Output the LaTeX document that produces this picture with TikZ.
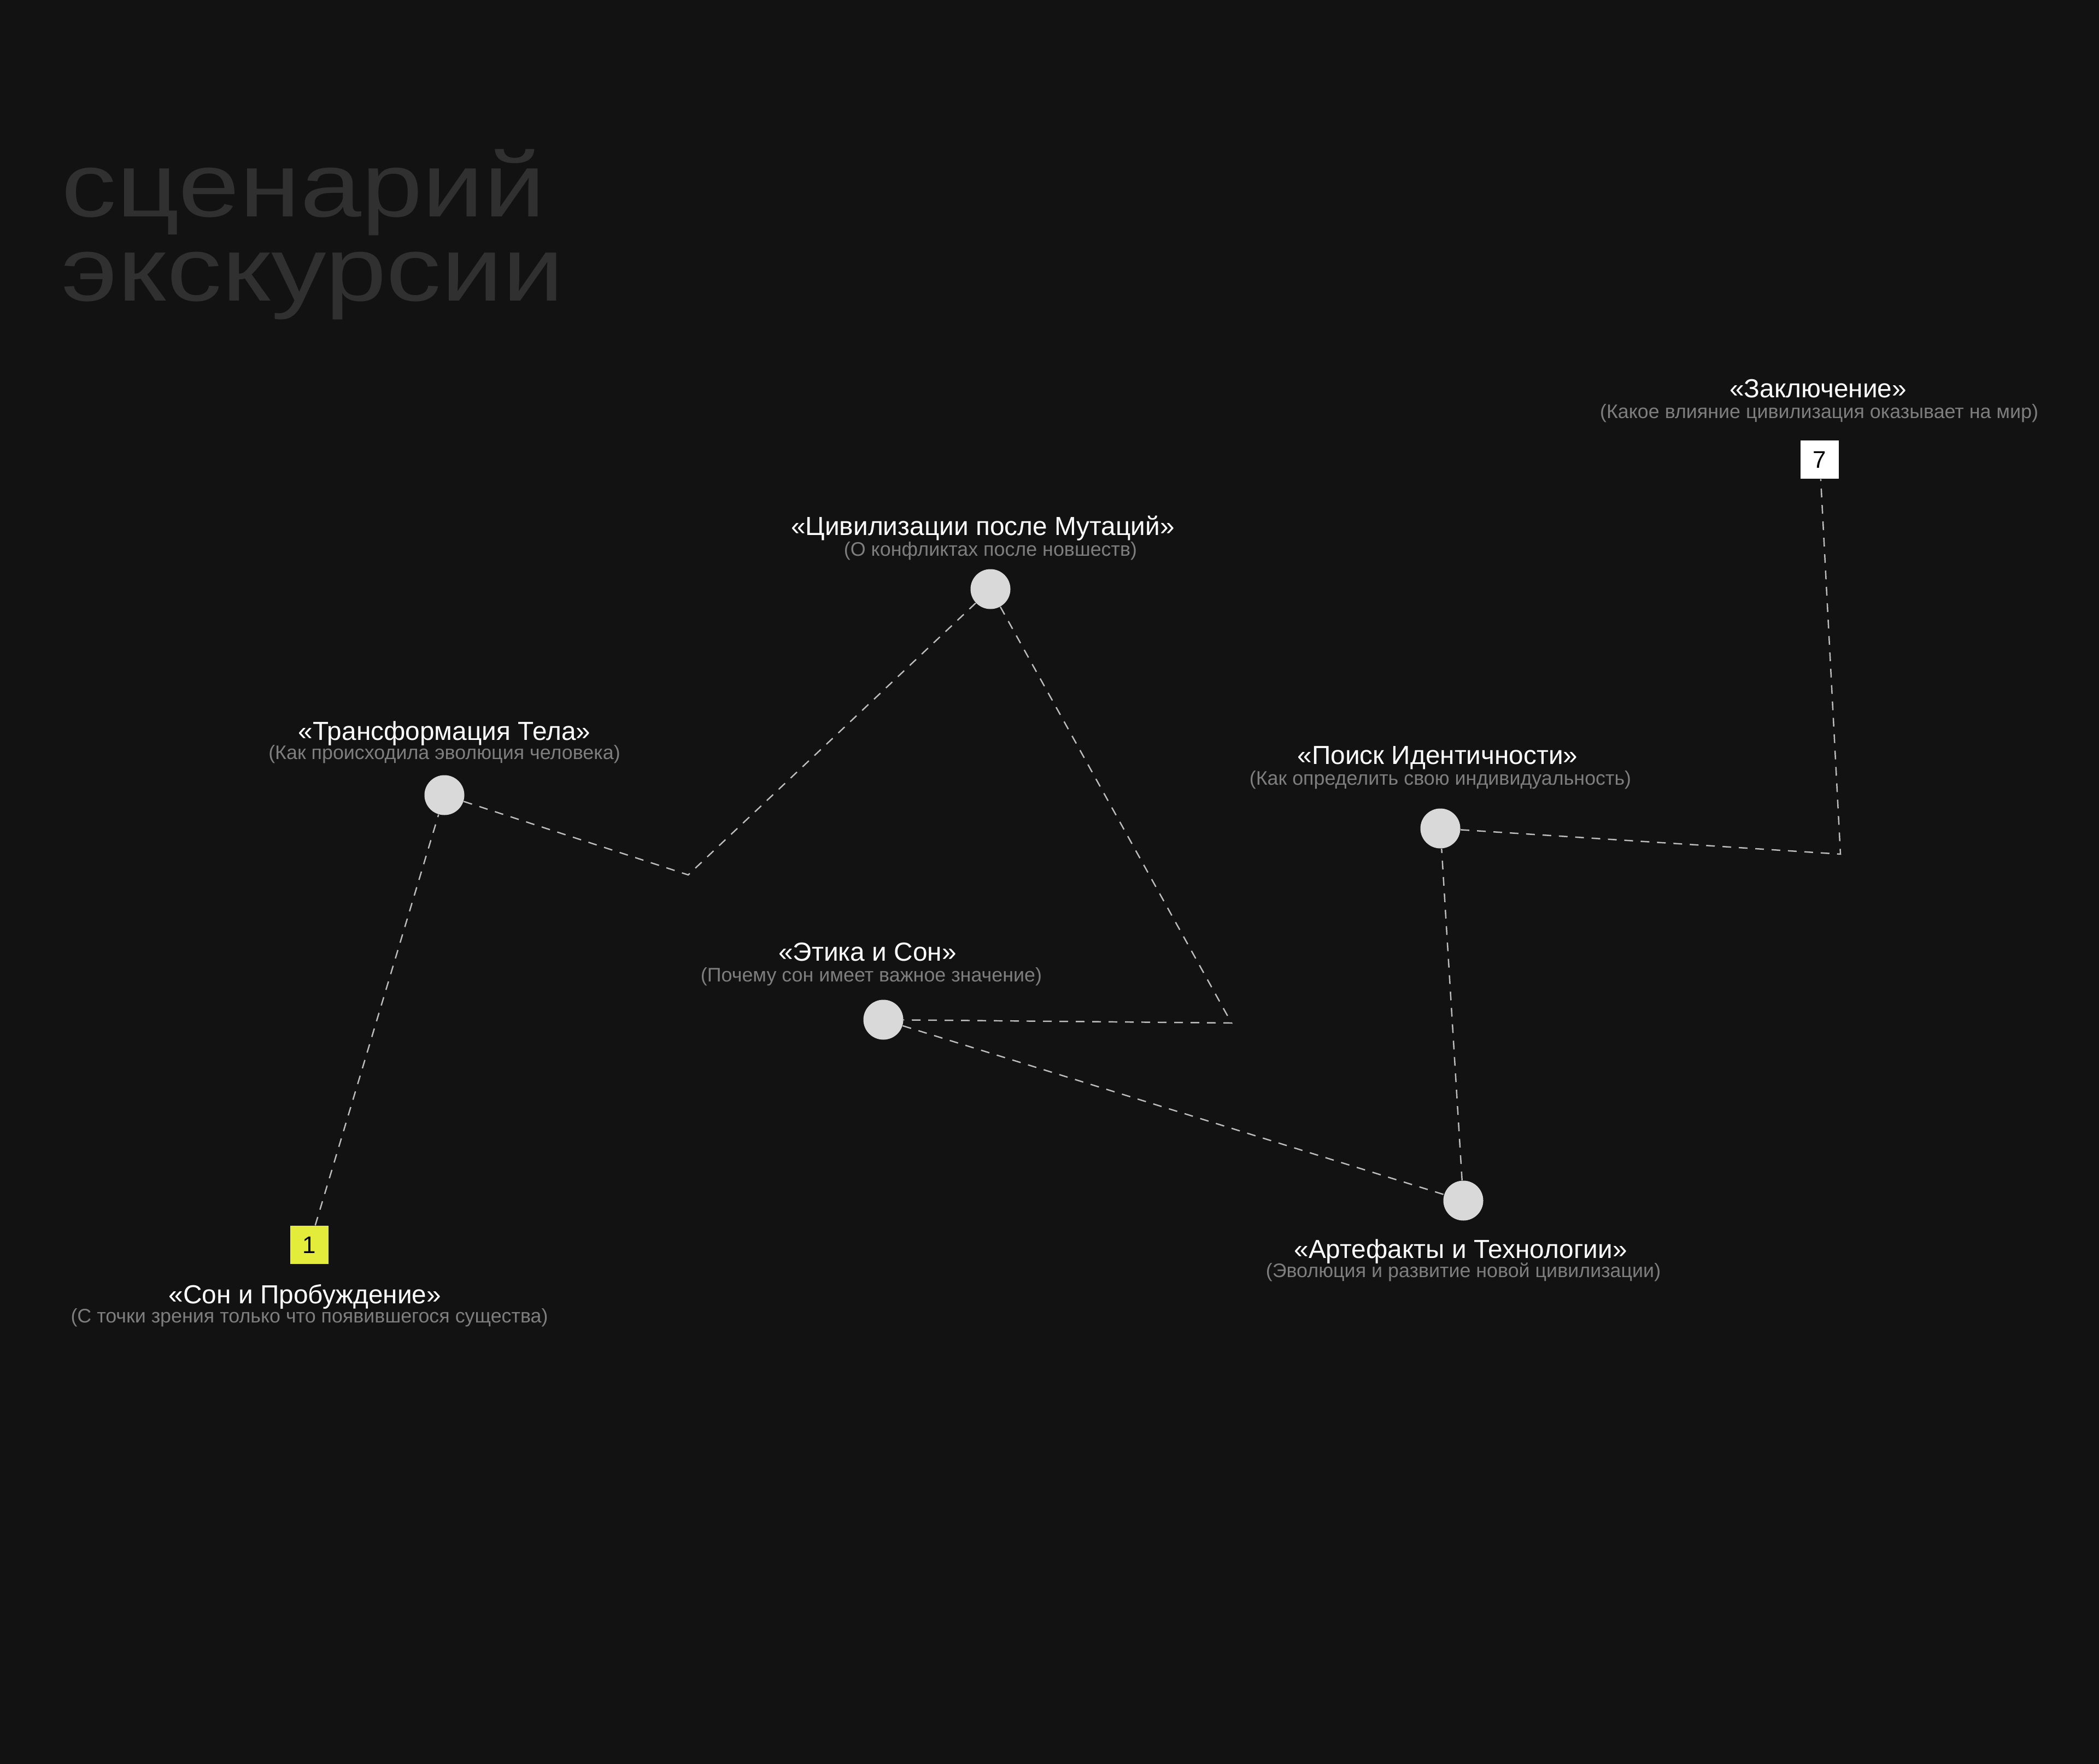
\documentclass[tikz,border=0pt]{standalone}
\usepackage{fontspec}
\setmainfont{Liberation Sans}
\newfontfamily\headfont[FakeStretch=1.21]{Liberation Sans}
\definecolor{bgdark}{HTML}{121212}
\definecolor{headgray}{HTML}{303030}
\definecolor{subgray}{HTML}{7E7E7E}
\definecolor{spotgray}{HTML}{D9D9D9}
\definecolor{linegray}{HTML}{BDBDBD}
\definecolor{limeyellow}{HTML}{E3EC3B}
\begin{document}
\begin{tikzpicture}[
  spot/.style={circle, fill=spotgray, minimum size=0.73cm, inner sep=0pt},
  numbox/.style={rectangle, minimum size=0.70cm, inner sep=0pt, text=black, font=\fontsize{12.5}{14}\selectfont},
  ttl/.style={anchor=base, inner sep=0pt, text=white, font=\fontsize{13.6}{16}\selectfont},
  subttl/.style={anchor=base, inner sep=0pt, text=subgray, font=\fontsize{10.2}{12}\selectfont},
  headline/.style={anchor=base west, inner sep=0pt, text=headgray, font=\headfont\fontsize{47.3}{40}\selectfont},
  track/.style={draw=linegray, line width=0.7pt, dash pattern=on 0.16cm off 0.14cm}
]
\fill[bgdark] (0,0) rectangle (38.40,-32.28);
\useasboundingbox (0,0) rectangle (38.40,-32.28);

% heading
\node[headline] (head1) at (1.12,-3.97) {сценарий};
\node[headline] (head2) at (1.12,-5.51) {экскурсии};

% stops
\node[numbox, fill=limeyellow] (s1) at (5.66,-22.78) {1};
\node[spot] (s2) at (8.13,-14.55) {};
\node[spot] (s3) at (18.12,-10.78) {};
\node[spot] (s4) at (16.16,-18.66) {};
\node[spot] (s5) at (26.77,-21.97) {};
\node[spot] (s6) at (26.35,-15.16) {};
\node[numbox, fill=white] (s7) at (33.29,-8.41) {7};

% bends of the route
\coordinate (b23) at (12.59,-16.01);
\coordinate (b34) at (22.53,-18.72);
\coordinate (b67) at (33.67,-15.63);

\draw[track] (s1) -- (s2) -- (b23) -- (s3) -- (b34) -- (s4) -- (s5) -- (s6) -- (b67) -- (s7);

% labels
\node[ttl] (t1) at (5.58,-23.85) {«Сон и Пробуждение»};
\node[subttl] (d1) at (5.66,-24.20) {(С точки зрения только что появившегося существа)};
\node[ttl] (t2) at (8.13,-13.54) {«Трансформация Тела»};
\node[subttl] (d2) at (8.13,-13.89) {(Как происходила эволюция человека)};
\node[ttl] (t3) at (17.98,-9.79) {«Цивилизации после Мутаций»};
\node[subttl] (d3) at (18.12,-10.17) {(О конфликтах после новшеств)};
\node[ttl] (t4) at (15.87,-17.58) {«Этика и Сон»};
\node[subttl] (d4) at (15.94,-17.96) {(Почему сон имеет важное значение)};
\node[ttl] (t5) at (26.72,-23.02) {«Артефакты и Технологии»};
\node[subttl] (d5) at (26.77,-23.37) {(Эволюция и развитие новой цивилизации)};
\node[ttl] (t6) at (26.30,-13.98) {«Поиск Идентичности»};
\node[subttl] (d6) at (26.35,-14.36) {(Как определить свою индивидуальность)};
\node[ttl] (t7) at (33.26,-7.27) {«Заключение»};
\node[subttl] (d7) at (33.28,-7.65) {(Какое влияние цивилизация оказывает на мир)};
\end{tikzpicture}
\end{document}
